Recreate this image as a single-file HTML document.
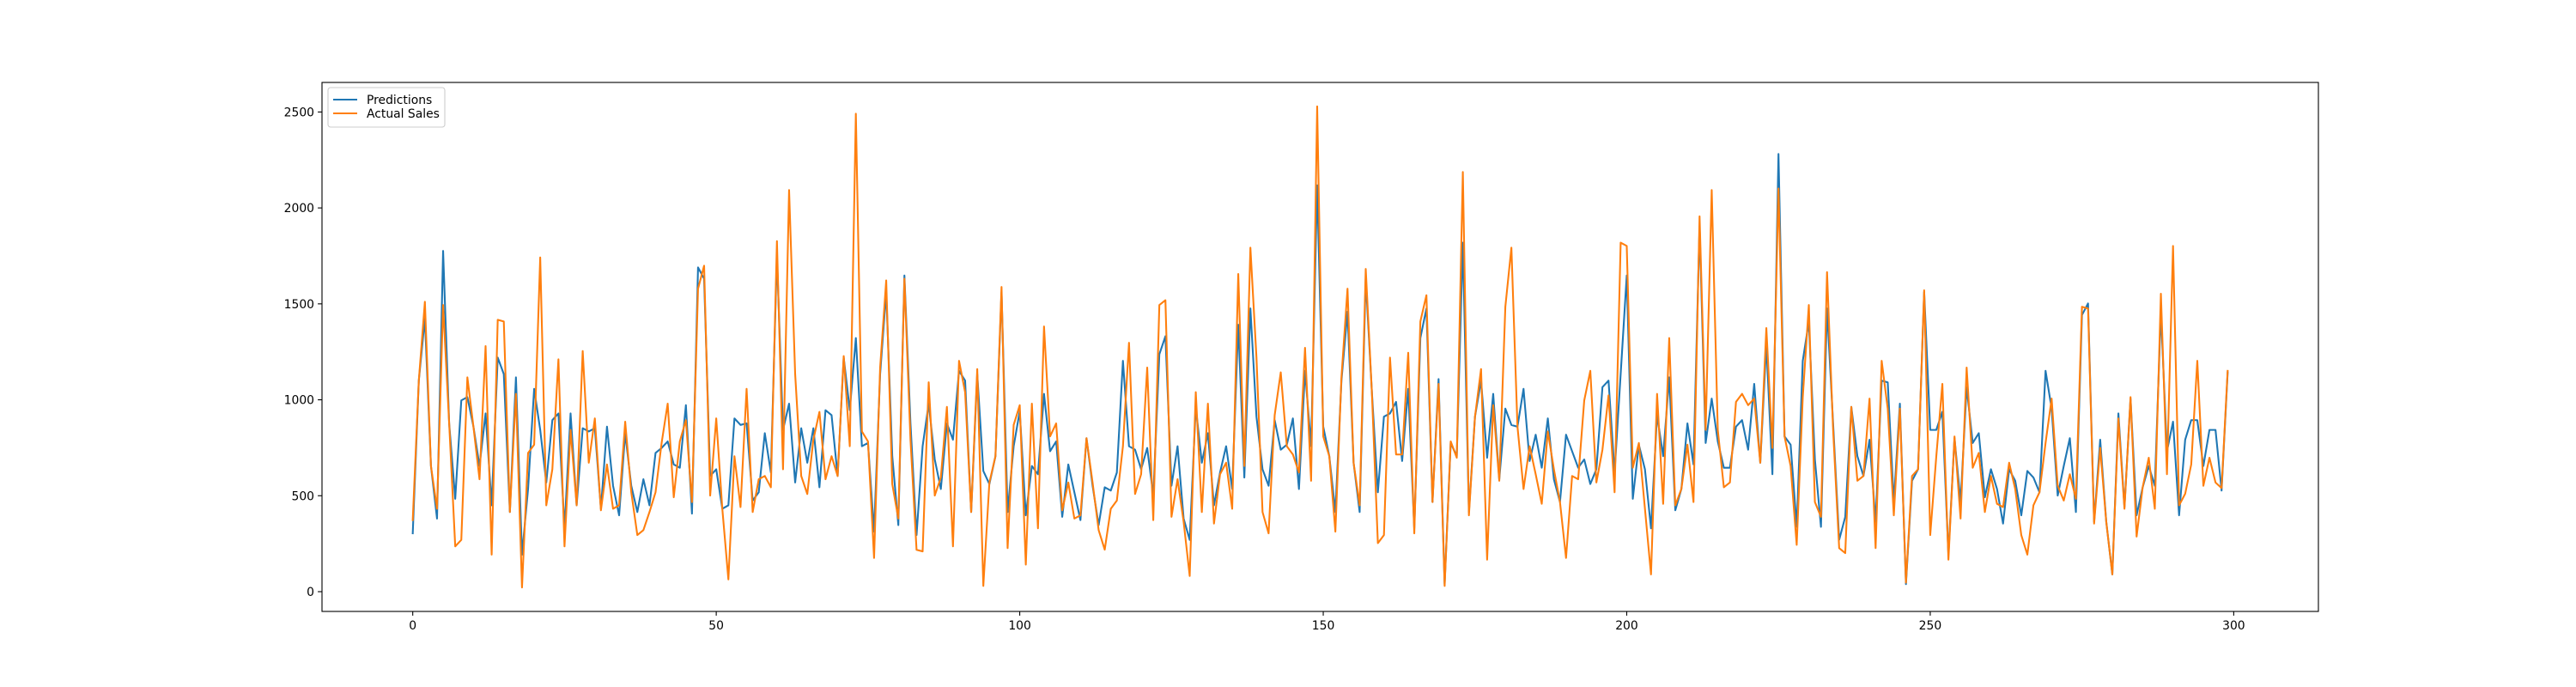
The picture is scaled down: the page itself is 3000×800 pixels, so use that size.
<!DOCTYPE html>
<html><head><meta charset="utf-8"><style>
html,body{margin:0;padding:0;background:#fff;}
svg{display:block;font-family:"DejaVu Sans","Liberation Sans",sans-serif;}
</style></head><body>
<svg id="chart" width="3000" height="800" viewBox="0 0 3000 800" xmlns="http://www.w3.org/2000/svg">
<rect width="3000" height="800" fill="#fff"/>
<g id="plot"></g>
</svg>
<script>
const predictions = [304,1100,1425,655,381,1776,877,484,997,1014,860,655,929,450,1220,1134,415,1117,193,535,1057,843,569,894,929,330,929,450,852,835,852,432,860,552,398,826,552,415,586,450,723,749,783,663,646,972,407,1690,1631,603,638,
432,450,903,869,877,475,518,826,621,1750,843,980,569,852,672,852,544,946,920,603,1220,946,1322,758,775,313,1134,1562,706,347,1648,877,295,758,980,689,535,877,792,1151,1100,415,1134,629,561,706,1562,415,758,940,
398,655,612,1031,732,783,390,663,518,373,800,552,347,544,527,621,1203,758,740,638,749,501,1237,1331,552,758,381,270,963,672,826,450,621,758,535,1391,595,1476,912,638,552,894,740,766,903,535,1151,758,2118,860,
706,415,1100,1459,672,415,1631,1049,518,912,929,989,681,1057,330,1322,1476,467,1108,39,775,706,1819,415,912,1100,698,1031,586,954,869,860,1057,681,818,646,903,586,467,818,732,646,689,561,638,1066,1100,621,1134,1648,
484,766,638,330,920,706,1117,424,535,877,663,1904,775,1006,783,646,646,860,894,740,1083,672,1288,612,2281,809,766,338,1203,1408,689,338,1476,877,270,390,963,706,603,792,364,1100,1091,467,980,39,578,638,1562,843,
843,937,193,800,467,1066,775,826,492,638,535,355,638,578,398,629,595,518,1151,954,501,655,800,415,1442,1502,364,792,364,90,929,441,1006,398,544,655,552,1459,732,886,398,792,894,894,655,843,843,527,1143];
const actualSales = [373,1100,1511,655,432,1494,877,236,270,1117,860,586,1280,193,1417,1408,415,1031,22,723,766,1742,450,638,1211,236,843,450,1254,672,903,424,663,432,450,886,518,295,321,415,518,775,980,492,783,894,467,1579,1699,501,903,
432,64,706,441,1057,415,586,603,544,1827,638,2093,1134,603,509,792,937,586,706,603,1228,758,2491,835,783,176,1168,1622,561,381,1631,792,218,210,1091,501,595,963,236,1203,1040,415,1160,30,569,706,1588,227,869,972,
141,980,330,1382,809,877,424,569,381,398,800,569,321,219,432,475,758,1297,509,612,1168,373,1494,1519,390,586,364,82,1040,415,980,355,612,672,432,1656,655,1793,1220,415,304,920,1143,758,715,621,1271,578,2529,809,
706,313,1117,1579,672,450,1682,1049,253,295,1220,715,715,1245,304,1408,1545,467,1083,30,783,698,2187,398,912,1160,167,972,578,1485,1793,860,535,758,612,458,835,638,467,176,603,586,997,1151,569,740,1023,518,1819,1802,
646,775,432,90,1031,458,1322,450,535,766,467,1956,843,2093,843,544,569,989,1031,972,1006,672,1374,749,2101,809,655,244,1014,1494,467,390,1665,843,227,201,963,578,603,1006,227,1203,954,398,954,47,603,638,1571,295,
706,1083,167,809,381,1168,646,723,415,603,458,441,672,535,295,193,450,518,775,1006,552,475,612,484,1485,1476,355,749,364,90,903,432,1014,287,544,698,432,1553,612,1802,450,510,663,1203,552,698,569,540,1151];
const xTicks = [0,50,100,150,200,250,300];
const yTicks = [0,500,1000,1500,2000,2500];

const L=375,R=2700,T=96,B=712;
const xMin=-14.95,xMax=313.95,yMin=-103,yMax=2654;
const xs=v=>L+(v-xMin)/(xMax-xMin)*(R-L);
const ys=v=>B-(v-yMin)/(yMax-yMin)*(B-T);
const NS="http://www.w3.org/2000/svg";
const g=document.getElementById('plot');
function mk(tag,attrs,parent){const e=document.createElementNS(NS,tag);for(const k in attrs)e.setAttribute(k,attrs[k]);(parent||g).appendChild(e);return e;}

function series(vals,color,name){
  const d=vals.map((v,i)=>(i?'L':'M')+xs(i).toFixed(2)+' '+ys(v).toFixed(2)).join(' ');
  const p=mk('path',{d:d,fill:'none',stroke:color,'stroke-width':2.08,'stroke-linejoin':'round','stroke-linecap':'square'});
  
  
}
series(predictions,'#1f77b4','predictions-line');
series(actualSales,'#ff7f0e','actual-sales-line');

const frame=mk('rect',{x:L,y:T,width:R-L,height:B-T,fill:'none',stroke:'#000','stroke-width':1.1});



xTicks.forEach(t=>{
  const x=xs(t);
  mk('line',{x1:x,x2:x,y1:B,y2:B+4.9,stroke:'#000','stroke-width':1.1});
  const tx=mk('text',{x:x,y:B+21,'font-size':13.9,'text-anchor':'middle',fill:'#000'});
  tx.textContent=t;
  
  
});
yTicks.forEach(t=>{
  const y=ys(t);
  mk('line',{x1:L-4.9,x2:L,y1:y,y2:y,stroke:'#000','stroke-width':1.1});
  const tx=mk('text',{x:L-9,y:y+5,'font-size':13.9,'text-anchor':'end',fill:'#000'});
  tx.textContent=t;
  
  
});

const leg=mk('g',{});


mk('rect',{x:382,y:102,width:136,height:46,rx:3,fill:'#fff','fill-opacity':0.8,stroke:'#ccc','stroke-width':1.1},leg);
[['Predictions','#1f77b4',116],['Actual Sales','#ff7f0e',132]].forEach(([lab,c,y])=>{
  mk('line',{x1:388,x2:416,y1:y,y2:y,stroke:c,'stroke-width':2.08},leg);
  const tx=mk('text',{x:427,y:y+5,'font-size':13.9,fill:'#000'},leg);
  tx.textContent=lab;
  
  
});
</script>
</body></html>
